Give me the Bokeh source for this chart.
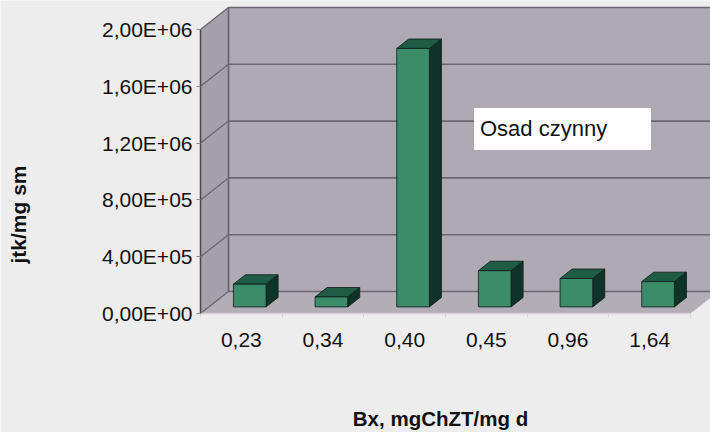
import math
from bokeh.plotting import figure
from bokeh.models import FixedTicker, Range1d, Label, Legend, LegendItem
from bokeh.embed import file_html
from bokeh.resources import INLINE

# ---- data ----
categories = ["0,23", "0,34", "0,40", "0,45", "0,96", "1,64"]
values = [1.6e5, 7.0e4, 1.82e6, 2.55e5, 2.0e5, 1.78e5]
y_ticks = [0, 400000, 800000, 1200000, 1600000, 2000000]
y_tick_labels = ["0,00E+00", "4,00E+05", "8,00E+05", "1,20E+06", "1,60E+06", "2,00E+06"]
legend_label = "Osad czynny"
x_title = "Bx, mgChZT/mg d"
y_title = "jtk/mg sm"

# ---- layout constants (pixels) ----
W, H = 710, 432
X0_PX, Y0_PX = 200, 313            # where the (0, 0) front corner sits on the canvas
n = len(categories)
px_per_cat = 490.0 / n
y_max = y_ticks[-1]
val_per_px = y_max / 284.0
x_start = -X0_PX / px_per_cat
x_end = (W - X0_PX) / px_per_cat
y_start = -(H - Y0_PX) * val_per_px
y_end = Y0_PX * val_per_px

depth_x = 28.0 / px_per_cat        # 3D depth offset of back wall
depth_y = 22.0 * val_per_px
f0 = 0.30                           # bar front position within depth
bd = 0.43                           # bar depth fraction
bw = 0.40                           # bar width in categories

FONT = "Liberation Sans"
BG = "#ededed"
WALL = "#aea9b2"
SIDE = "#a5a0aa"
FLOOR = "#b3aeb6"
GRID = "#6b6670"
FRONT = "#3b8c69"
TOPC = "#1f5c45"
SIDEC = "#0f3328"
EDGE = "#0c1c16"

p = figure(width=W, height=H, output_backend="svg", toolbar_location=None,
           x_range=Range1d(x_start, x_end), y_range=Range1d(y_start, y_end),
           min_border=0, min_border_left=0, min_border_right=0,
           min_border_top=0, min_border_bottom=0)
p.background_fill_color = BG
p.border_fill_color = BG
p.outline_line_color = None
p.xgrid.visible = False
p.ygrid.visible = False

# walls
p.quad(left=[depth_x], right=[n + depth_x], bottom=[depth_y], top=[y_max + depth_y],
       fill_color=WALL, line_color=None)
p.patch(x=[0, depth_x, depth_x, 0], y=[0, depth_y, y_max + depth_y, y_max],
        fill_color=SIDE, line_color=None)
p.patch(x=[0, n, n + depth_x, depth_x], y=[0, 0, depth_y, depth_y],
        fill_color=FLOOR, line_color=None)

# gridlines on back wall and side wall
p.segment(x0=[depth_x] * len(y_ticks), y0=[t + depth_y for t in y_ticks],
          x1=[n + depth_x] * len(y_ticks), y1=[t + depth_y for t in y_ticks],
          line_color=GRID, line_width=1.6)
p.segment(x0=[0] * len(y_ticks), y0=y_ticks,
          x1=[depth_x] * len(y_ticks), y1=[t + depth_y for t in y_ticks],
          line_color=GRID, line_width=1.3)
p.segment(x0=[depth_x], y0=[depth_y], x1=[depth_x], y1=[y_max + depth_y],
          line_color=GRID, line_width=1.8)
p.segment(x0=[0], y0=[0], x1=[n], y1=[0], line_color="#d4d0d6", line_width=1.5)

# bars (pseudo 3D)
bdx, bdy = bd * depth_x, bd * depth_y
cx = [i + 0.5 + f0 * depth_x for i in range(n)]
base = f0 * depth_y
tops_x, tops_y, sides_x, sides_y = [], [], [], []
for c, v in zip(cx, values):
    xl, xr = c - bw / 2, c + bw / 2
    t = base + v
    tops_x.append([xl, xr, xr + bdx, xl + bdx])
    tops_y.append([t, t, t + bdy, t + bdy])
    sides_x.append([xr, xr + bdx, xr + bdx, xr])
    sides_y.append([base, base + bdy, t + bdy, t])
p.patches(xs=sides_x, ys=sides_y, fill_color=SIDEC, line_color=EDGE, line_width=0.8)
p.patches(xs=tops_x, ys=tops_y, fill_color=TOPC, line_color=EDGE, line_width=0.8)
p.vbar(x=cx, width=bw, bottom=base, top=[base + v for v in values],
       fill_color=FRONT, line_color=EDGE, line_width=0.8)

# axes, fixed at the front corner of the 3D box
p.xaxis.fixed_location = 0
p.xaxis.bounds = (0, n)
p.xaxis.ticker = FixedTicker(ticks=[i + 0.5 for i in range(n)],
                             minor_ticks=list(range(n + 1)))
p.xaxis.major_label_overrides = {i + 0.5: c for i, c in enumerate(categories)}
p.xaxis.axis_line_color = None
p.xaxis.major_tick_line_color = None
p.xaxis.minor_tick_line_color = "#d8d4da"
p.xaxis.minor_tick_out = 4
p.xaxis.minor_tick_in = 0
p.xaxis.major_label_standoff = 13
p.xaxis.major_label_text_font = FONT
p.xaxis.major_label_text_font_size = "21px"
p.xaxis.major_label_text_color = "#111111"

p.yaxis.fixed_location = 0
p.yaxis.ticker = FixedTicker(ticks=y_ticks, minor_ticks=[])
p.yaxis.major_label_overrides = {t: l for t, l in zip(y_ticks, y_tick_labels)}
p.yaxis.bounds = (0, y_max)
p.yaxis.axis_line_color = "#4a464d"
p.yaxis.axis_line_width = 1.5
p.yaxis.major_tick_line_color = "#8a868d"
p.yaxis.major_tick_out = 4
p.yaxis.major_tick_in = 0
p.yaxis.minor_tick_line_color = None
p.yaxis.major_label_standoff = 4
p.yaxis.major_label_text_font = FONT
p.yaxis.major_label_text_font_size = "21px"
p.yaxis.major_label_text_color = "#111111"

# legend (text only box)
dummy = p.scatter(x=[], y=[], fill_alpha=0, line_alpha=0)
legend = Legend(items=[LegendItem(label=legend_label, renderers=[dummy])],
                location=(474, H - 150), glyph_width=6, glyph_height=42,
                label_standoff=0, label_width=171, label_height=42,
                padding=0, margin=0, spacing=0,
                background_fill_color="white", background_fill_alpha=1.0,
                border_line_color=None,
                label_text_font=FONT, label_text_font_size="22px",
                label_text_color="#111111")
p.add_layout(legend)

# axis titles (canvas pixel units)
p.add_layout(Label(x=440, y=418, x_units="canvas", y_units="canvas",
                   text=x_title, text_align="center", text_baseline="middle",
                   text_font=FONT, text_font_size="20.5px", text_font_style="bold",
                   text_color="#111111"))
p.add_layout(Label(x=18, y=214, x_units="canvas", y_units="canvas",
                   text=y_title, text_align="center", text_baseline="middle",
                   angle=math.pi / 2,
                   text_font=FONT, text_font_size="21px", text_font_style="bold",
                   text_color="#111111"))

open("out.html", "w").write(file_html(p, INLINE))
